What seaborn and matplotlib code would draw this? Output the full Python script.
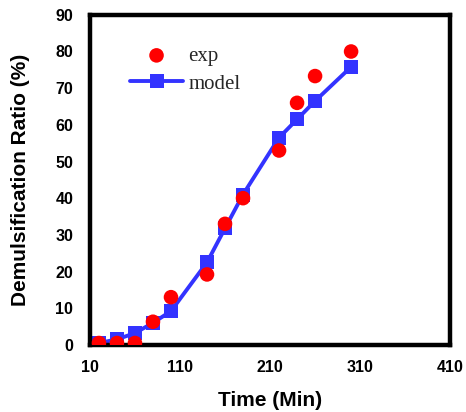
import matplotlib
matplotlib.use("Agg")
import matplotlib.pyplot as plt
import seaborn as sns
import pandas as pd

time_min = [20, 40, 60, 80, 100, 140, 160, 180, 220, 240, 260, 300]
exp_vals = [0.5, 0.5, 0.5, 6.3, 13, 19.2, 33, 40, 53, 66, 73.3, 80]
model_vals = [0.5, 1.5, 3.2, 6, 9.2, 22.5, 31.8, 41, 56.5, 61.5, 66.5, 75.8]
x_ticks = [10, 110, 210, 310, 410]
y_ticks = [0, 10, 20, 30, 40, 50, 60, 70, 80, 90]

sns.set_style("white")
plt.rcParams['font.family'] = ['Liberation Sans', 'DejaVu Sans']

df = pd.DataFrame({"time": time_min, "exp": exp_vals, "model": model_vals})

fig = plt.figure(figsize=(4.66, 4.12), dpi=100)
ax = fig.add_axes([0.193, 0.163, 0.773, 0.801])

sns.lineplot(data=df, x="time", y="model", ax=ax, color="#3333FF", linewidth=2.8,
             marker="s", markersize=9.5, markeredgewidth=0, label="model", zorder=2)
sns.scatterplot(data=df, x="time", y="exp", ax=ax, color="#FF0000", s=110,
                edgecolor="none", label="exp", zorder=3)

ax.set_xlim(10, 410)
ax.set_ylim(0, 90)
ax.set_xticks(x_ticks)
ax.set_yticks(y_ticks)
ax.set_xticklabels([str(t) for t in x_ticks], fontsize=11.5, fontweight="bold", color="black")
ax.set_yticklabels([str(t) for t in y_ticks], fontsize=11.5, fontweight="bold", color="black")
ax.set_xlabel("Time (Min)", fontsize=15, fontweight="bold", color="black", labelpad=11.5)
ax.set_ylabel("Demulsification Ratio (%)", fontsize=15, fontweight="bold", color="black", labelpad=18.5)
for s in ax.spines.values():
    s.set_linewidth(3.2)
    s.set_color("black")
ax.tick_params(axis="both", direction="out", length=4, width=2.5, colors="black")
ax.tick_params(axis="x", pad=7)
ax.tick_params(axis="y", pad=8)

h, l = ax.get_legend_handles_labels()
order = [l.index("exp"), l.index("model")]
ax.legend([h[i] for i in order], [l[i] for i in order], loc="upper left",
          bbox_to_anchor=(0.088, 0.930), borderaxespad=0, frameon=False,
          prop={"family": "Liberation Serif", "size": 15}, handlelength=2.55,
          handletextpad=0.25, labelspacing=0.4)

fig.savefig("out.png", dpi=100)
